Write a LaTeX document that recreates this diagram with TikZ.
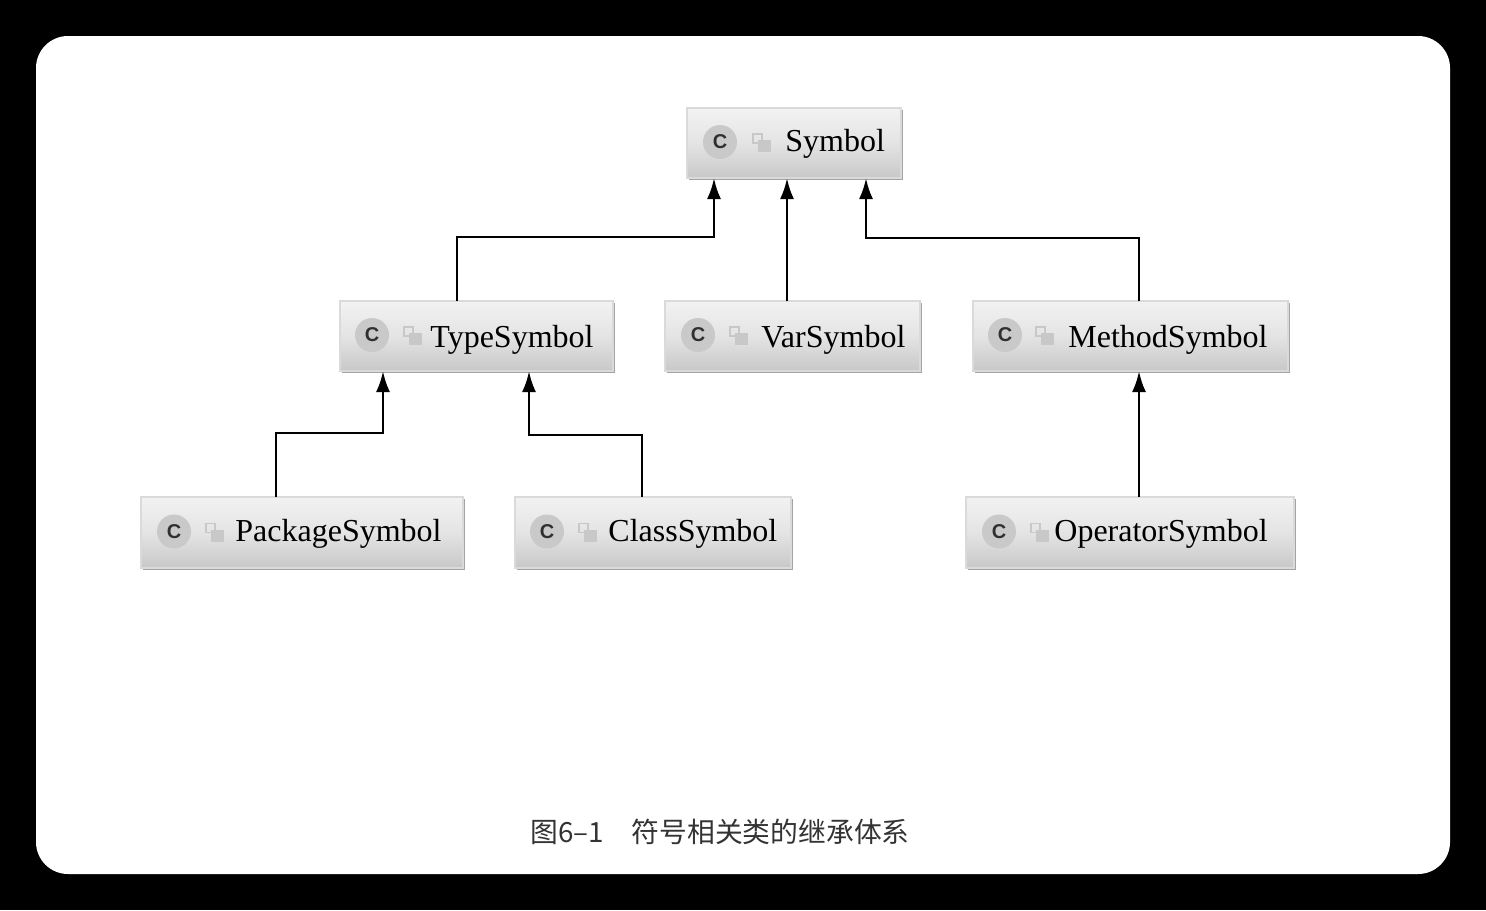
\documentclass[tikz,border=0pt]{standalone}
\usepackage{fontspec}
\setmainfont{Liberation Serif}
\newfontfamily\cjk{Noto Sans CJK SC}
\newfontfamily\iconfont{Liberation Sans}
\usetikzlibrary{arrows.meta}
\definecolor{boxedge}{HTML}{DADADA}
\definecolor{boxshade}{HTML}{A4A4A4}
\definecolor{boxtop}{HTML}{F2F2F2}
\definecolor{boxmid}{HTML}{E4E4E4}
\definecolor{boxbot}{HTML}{C8C8C8}
\definecolor{iconbg}{HTML}{C9C9C9}
\definecolor{iconfg}{HTML}{303030}
\definecolor{lockc}{HTML}{C8C8C8}
\definecolor{captionc}{HTML}{333333}
\tikzset{
  x=0.5pt,y=-0.5pt,
  classbox/.style={draw=boxedge,line width=1pt,outer sep=0pt,top color=boxtop,bottom color=boxbot,middle color=boxmid,inner sep=0pt,anchor=north west},
  classtext/.style={font=\fontsize{16}{18}\selectfont,text=black,inner sep=0pt,anchor=base west},
  classicon/.style={circle,fill=iconbg,minimum size=17pt,inner sep=0pt,text=iconfg,font=\iconfont\bfseries\fontsize{10}{10}\selectfont},
  inherit/.style={draw=black,line width=1.4pt,-{Latex[length=10.5pt,width=7pt]}},
  lockpart/.style={fill=lockc,draw=none},
}
\newcommand{\textdrop}{11}
% name, x1, y1, x2, y2, icon x, lock x, text x, label
\newcommand{\umlbox}[9]{%
  \fill[boxshade] (#2+2,#3+2) rectangle (#4+2,#5+2);
  \pgfmathsetmacro{\bw}{(#4-#2)*0.5}\pgfmathsetmacro{\bh}{(#5-#3)*0.5}%
  \pgfmathsetmacro{\cy}{(#3+#5)/2}%
  \node[classbox,minimum width=\bw pt,minimum height=\bh pt] (#1) at (#2,#3) {};
  \node[classicon] (#1icon) at (#6,\cy-1) {C};
  \draw[lockc,line width=0.8pt] (#7-8,\cy-9) rectangle (#7+1,\cy);
  \fill[lockpart] (#7-3,\cy-3) rectangle (#7+10,\cy+9);
  \path (#8,\cy+\textdrop) node[classtext] (#1text) {#9};
}
\begin{document}
\begin{tikzpicture}
\useasboundingbox (0,0) rectangle (1486,910);
\fill[black] (0,0) rectangle (1486,910);
\fill[white,rounded corners=16pt] (36,36) rectangle (1450,874);

\renewcommand{\textdrop}{8}
\umlbox{symbol}{687}{108}{901}{178}{720}{761}{785}{Symbol}
\renewcommand{\textdrop}{11}
\umlbox{typesym}{340}{301}{613}{371}{372}{412}{430}{TypeSymbol}
\umlbox{varsym}{665}{301}{920}{371}{698}{738}{761}{VarSymbol}
\umlbox{methodsym}{973}{301}{1288}{371}{1005}{1044}{1068}{MethodSymbol}
\renewcommand{\textdrop}{9}
\umlbox{packagesym}{141}{497}{463}{568}{174}{214}{235}{PackageSymbol}
\umlbox{classsym}{515}{497}{791}{568}{547}{587}{608}{ClassSymbol}
\umlbox{operatorsym}{966}{497}{1294}{568}{999}{1039}{1054}{OperatorSymbol}

\draw[inherit] ([xshift=58.5pt]typesym.north west) -- ++(0,-64) -| ([xshift=13.5pt]symbol.south west);
\draw[inherit] ([xshift=50pt]symbol.south west |- varsym.north) -- ([xshift=50pt]symbol.south west);
\draw[inherit] ([xshift=83pt]methodsym.north west) -- ++(0,-63) -| ([xshift=89.5pt]symbol.south west);
\draw[inherit] ([xshift=67.5pt]packagesym.north west) -- ++(0,-64) -| ([xshift=21.5pt]typesym.south west);
\draw[inherit] ([xshift=63.5pt]classsym.north west) -- ++(0,-62) -| ([xshift=94.5pt]typesym.south west);
\draw[inherit] ([xshift=83pt]methodsym.south west |- operatorsym.north) -- ([xshift=83pt]methodsym.south west);

\node[font=\cjk\fontsize{13.9}{16}\selectfont,text=captionc,inner sep=0pt,anchor=west] (caption) at (530,832) {图6–1　符号相关类的继承体系};
\end{tikzpicture}
\end{document}
